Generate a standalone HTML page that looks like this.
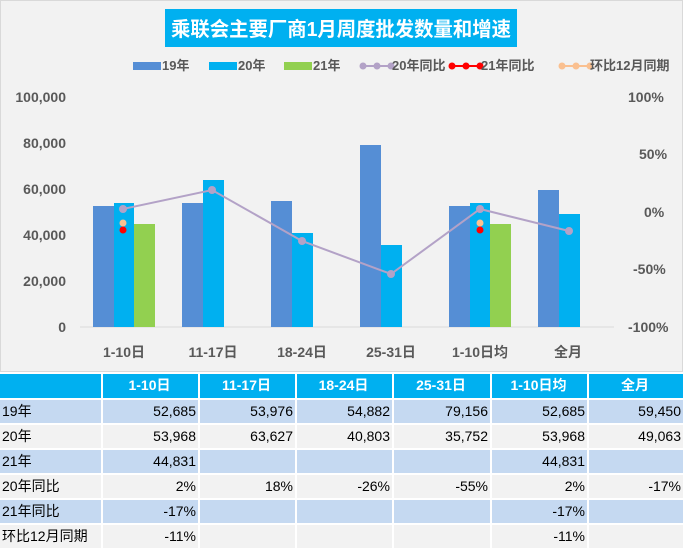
<!DOCTYPE html><html><head><meta charset="utf-8"><style>
body{margin:0;width:683px;height:548px;background:#fff;font-family:"Liberation Sans","Noto Sans CJK SC",sans-serif;position:relative;overflow:hidden}
.c{position:absolute;left:0;top:0;width:681px;height:370px;background:#f2f2f2;border:1px solid #d9d9d9}
.t{position:absolute;left:0;top:374px;width:683px}
.r{position:relative;height:25px}
.r div{position:absolute;top:0;height:23px;line-height:23px;font-size:14px;text-align:right;box-sizing:border-box;padding-right:2px;color:#000}
.r div:first-child{text-align:left;padding-left:2px}
.h div{background:#00b0f0;color:#fff;font-weight:bold;text-align:center!important;height:24px}
.a div{background:#c5d9f1}.b div{background:#f2f2f2}
</style></head><body>
<div class="c"></div>
<svg width="683" height="372" style="position:absolute;left:0;top:0" font-family="Liberation Sans, Noto Sans CJK SC, sans-serif">
<rect x="165" y="9" width="352" height="38" fill="#00b0f0"/>
<text x="341" y="36" fill="#fff" font-size="20" font-weight="bold" text-anchor="middle" textLength="340" lengthAdjust="spacingAndGlyphs">乘联会主要厂商1月周度批发数量和增速</text>
<g font-size="13" font-weight="bold" fill="#595959">
<rect x="133" y="62" width="28" height="8" fill="#558ed5"/><text x="162" y="70">19年</text>
<rect x="209" y="62" width="28" height="8" fill="#00b0f0"/><text x="238" y="70">20年</text>
<rect x="284" y="62" width="28" height="8" fill="#92d050"/><text x="313" y="70">21年</text>
<line x1="363" y1="66" x2="391" y2="66" stroke="#b3a2c7" stroke-width="2"/><circle cx="363" cy="66" r="3.5" fill="#b3a2c7"/><circle cx="377" cy="66" r="3.5" fill="#b3a2c7"/><circle cx="391" cy="66" r="3.5" fill="#b3a2c7"/><text x="392" y="70">20年同比</text>
<line x1="452" y1="66" x2="480" y2="66" stroke="#f00" stroke-width="2"/><circle cx="452" cy="66" r="3.5" fill="#f00"/><circle cx="466" cy="66" r="3.5" fill="#f00"/><circle cx="480" cy="66" r="3.5" fill="#f00"/><text x="481" y="70">21年同比</text>
<line x1="562" y1="66" x2="590" y2="66" stroke="#fac090" stroke-width="2"/><circle cx="562" cy="66" r="3.5" fill="#fac090"/><circle cx="576" cy="66" r="3.5" fill="#fac090"/><circle cx="590" cy="66" r="3.5" fill="#fac090"/><text x="590" y="70">环比12月同期</text>
</g>
<g font-size="14" font-weight="bold" fill="#595959">
<g text-anchor="end"><text x="66" y="102">100,000</text><text x="66" y="148">80,000</text><text x="66" y="194">60,000</text><text x="66" y="240">40,000</text><text x="66" y="286">20,000</text><text x="66" y="332">0</text></g>
<text x="628" y="102">100%</text><text x="639" y="159">50%</text><text x="644" y="217">0%</text><text x="633" y="274">-50%</text><text x="628" y="332">-100%</text>
<g text-anchor="middle"><text x="124" y="357">1-10日</text><text x="213" y="357">11-17日</text><text x="302" y="357">18-24日</text><text x="391" y="357">25-31日</text><text x="480" y="357">1-10日均</text><text x="568" y="357">全月</text></g>
</g>
<line x1="80" y1="327" x2="614" y2="327" stroke="#d9d9d9"/>
<g fill="#558ed5"><rect x="93" y="206" width="21" height="121"/><rect x="182" y="203" width="21" height="124"/><rect x="271" y="201" width="21" height="126"/><rect x="360" y="145" width="21" height="182"/><rect x="449" y="206" width="21" height="121"/><rect x="538" y="190" width="21" height="137"/></g>
<g fill="#00b0f0"><rect x="114" y="203" width="20" height="124"/><rect x="203" y="180" width="21" height="147"/><rect x="292" y="233" width="21" height="94"/><rect x="381" y="245" width="21" height="82"/><rect x="470" y="203" width="20" height="124"/><rect x="559" y="214" width="21" height="113"/></g>
<g fill="#92d050"><rect x="134" y="224" width="21" height="103"/><rect x="490" y="224" width="21" height="103"/></g>
<polyline points="123,209 212,190 302,241 391,274 480,209 569,231" fill="none" stroke="#b3a2c7" stroke-width="2"/>
<g fill="#b3a2c7"><circle cx="123" cy="209" r="4"/><circle cx="212" cy="190" r="4"/><circle cx="302" cy="241" r="4"/><circle cx="391" cy="274" r="4"/><circle cx="480" cy="209" r="4"/><circle cx="569" cy="231" r="4"/></g>
<g fill="#fac090"><circle cx="123" cy="223" r="3.5"/><circle cx="480" cy="223" r="3.5"/></g>
<g fill="#f00"><circle cx="123" cy="230" r="3.5"/><circle cx="480" cy="230" r="3.5"/></g>
</svg>
<div class="t">
<div class="r h" style="height:26px"><div style="left:0;width:101px"></div><div style="left:103px;width:95px">1-10日</div><div style="left:200px;width:95px">11-17日</div><div style="left:297px;width:95px">18-24日</div><div style="left:394px;width:96px">25-31日</div><div style="left:492px;width:95px">1-10日均</div><div style="left:589px;width:94px">全月</div></div>
<div class="r a"><div style="left:0;width:101px">19年</div><div style="left:103px;width:95px">52,685</div><div style="left:200px;width:95px">53,976</div><div style="left:297px;width:95px">54,882</div><div style="left:394px;width:96px">79,156</div><div style="left:492px;width:95px">52,685</div><div style="left:589px;width:94px">59,450</div></div>
<div class="r b"><div style="left:0;width:101px">20年</div><div style="left:103px;width:95px">53,968</div><div style="left:200px;width:95px">63,627</div><div style="left:297px;width:95px">40,803</div><div style="left:394px;width:96px">35,752</div><div style="left:492px;width:95px">53,968</div><div style="left:589px;width:94px">49,063</div></div>
<div class="r a"><div style="left:0;width:101px">21年</div><div style="left:103px;width:95px">44,831</div><div style="left:200px;width:95px"></div><div style="left:297px;width:95px"></div><div style="left:394px;width:96px"></div><div style="left:492px;width:95px">44,831</div><div style="left:589px;width:94px"></div></div>
<div class="r b"><div style="left:0;width:101px">20年同比</div><div style="left:103px;width:95px">2%</div><div style="left:200px;width:95px">18%</div><div style="left:297px;width:95px">-26%</div><div style="left:394px;width:96px">-55%</div><div style="left:492px;width:95px">2%</div><div style="left:589px;width:94px">-17%</div></div>
<div class="r a"><div style="left:0;width:101px">21年同比</div><div style="left:103px;width:95px">-17%</div><div style="left:200px;width:95px"></div><div style="left:297px;width:95px"></div><div style="left:394px;width:96px"></div><div style="left:492px;width:95px">-17%</div><div style="left:589px;width:94px"></div></div>
<div class="r b"><div style="left:0;width:101px">环比12月同期</div><div style="left:103px;width:95px">-11%</div><div style="left:200px;width:95px"></div><div style="left:297px;width:95px"></div><div style="left:394px;width:96px"></div><div style="left:492px;width:95px">-11%</div><div style="left:589px;width:94px"></div></div>
</div>
</body></html>
